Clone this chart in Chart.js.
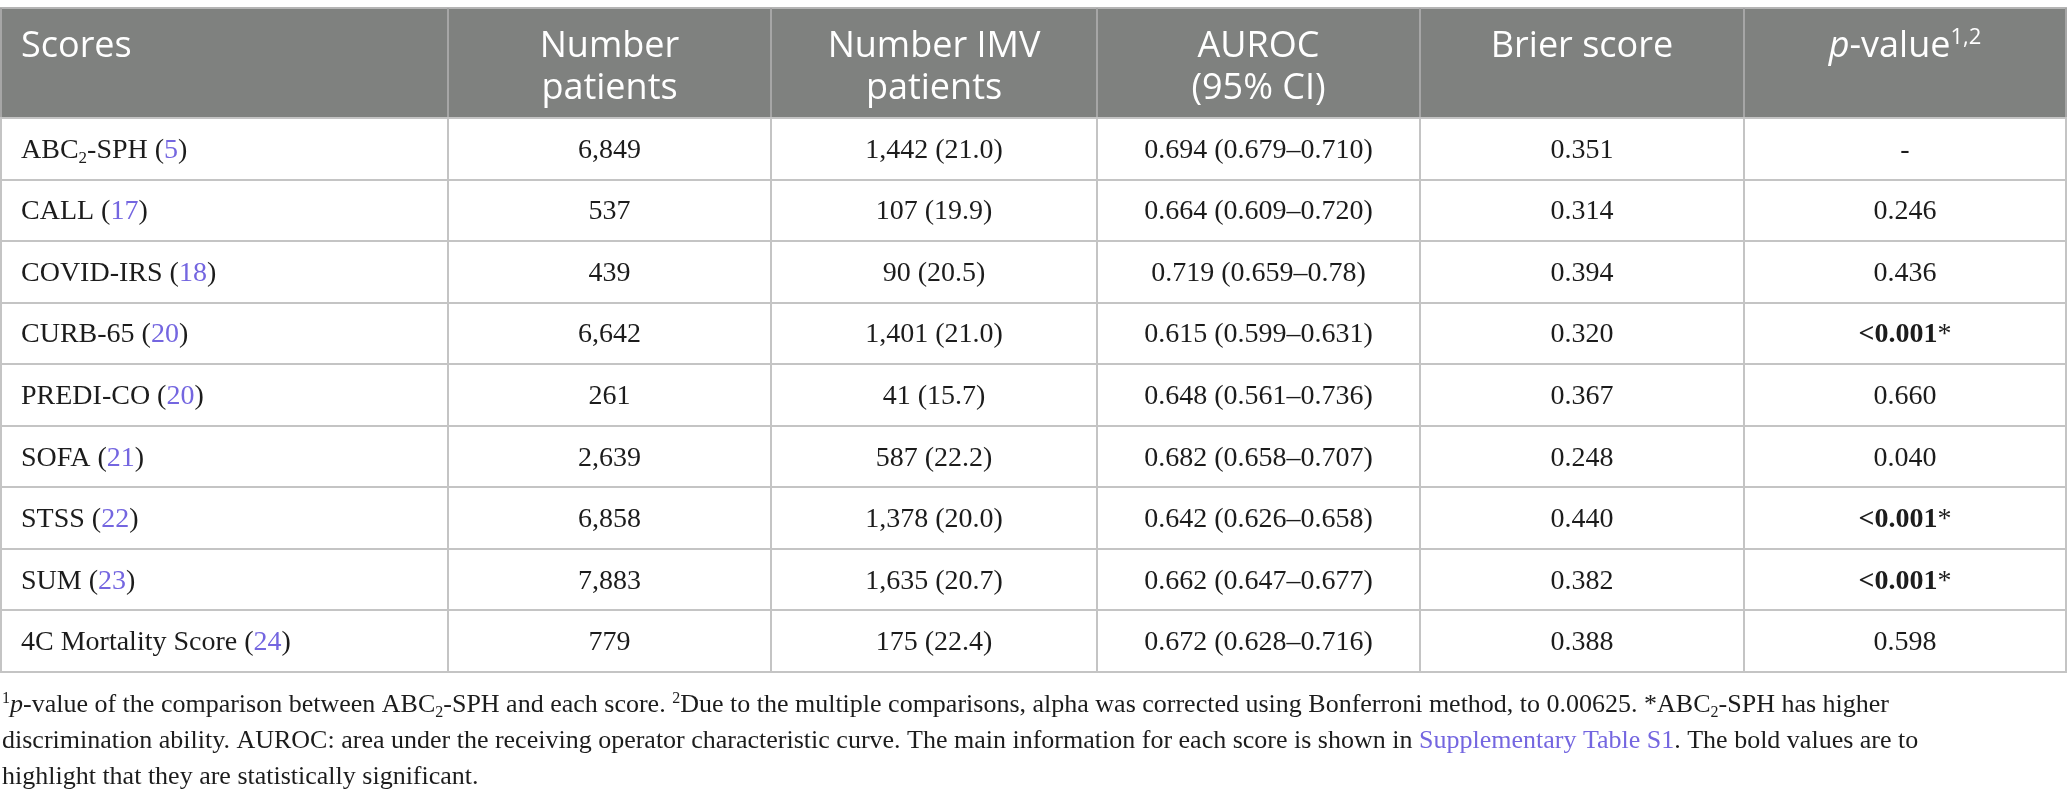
<!DOCTYPE html>
<html>
<head>
<meta charset="utf-8">
<script src="https://cdn.jsdelivr.net/npm/chart.js@4.4.1/dist/chart.umd.min.js"></script>
<style>
  html, body { margin: 0; padding: 0; background: #fff; }
  #wrap { width: 2067px; height: 804px; position: relative; }
</style>
</head>
<body>
<div id="wrap"><canvas id="tablo"></canvas></div>
<script>
// table data
const scores = ['ABC₂-SPH', 'CALL', 'COVID-IRS', 'CURB-65', 'PREDI-CO', 'SOFA', 'STSS', 'SUM', '4C Mortality Score'];
const refs = ['5', '17', '18', '20', '20', '21', '22', '23', '24'];
const nPatients = ['6,849', '537', '439', '6,642', '261', '2,639', '6,858', '7,883', '779'];
const nImv = ['1,442', '107', '90', '1,401', '41', '587', '1,378', '1,635', '175'];
const imvPct = ['21.0', '19.9', '20.5', '21.0', '15.7', '22.2', '20.0', '20.7', '22.4'];
const auroc = ['0.694', '0.664', '0.719', '0.615', '0.648', '0.682', '0.642', '0.662', '0.672'];
const ciLow = ['0.679', '0.609', '0.659', '0.599', '0.561', '0.658', '0.626', '0.647', '0.628'];
const ciHigh = ['0.710', '0.720', '0.78', '0.631', '0.736', '0.707', '0.658', '0.677', '0.716'];
const brier = ['0.351', '0.314', '0.394', '0.320', '0.367', '0.248', '0.440', '0.382', '0.388'];
const pValues = ['-', '0.246', '0.436', '<0.001', '0.660', '0.040', '<0.001', '<0.001', '0.598'];
const pSignificant = [false, false, false, true, false, false, true, true, false];

// layout (pixels)
const colEdges = [1, 448, 771, 1097, 1420, 1744, 2066];
const headerTop = 8;
const bodyTop = 118;
const bodyBottom = 672;

const SERIF = '"Liberation Serif", "DejaVu Serif", serif';
const SANS = '"Open Sans", "Noto Sans", sans-serif';
const TEXT = '#1c1c1c';
const LINK = '#7466e0';
const HEADER_BG = '#7f817f';
const LINE = '#c4c4c4';

// draw a list of styled text runs
function drawRuns(ctx, runs, x, y, align, size, family) {
    const fontOf = r => {
        const s = (r.sub || r.sup) ? Math.round(size * 0.62) : size;
        return `${r.i ? 'italic ' : ''}${r.b ? 'bold ' : ''}${s}px ${family}`;
    };
    let total = 0;
    runs.forEach(r => { ctx.font = fontOf(r); total += ctx.measureText(r.t).width; });
    let cx = align === 'center' ? x - total / 2 : x;
    ctx.textAlign = 'left';
    ctx.textBaseline = 'alphabetic';
    runs.forEach(r => {
        ctx.font = fontOf(r);
        ctx.fillStyle = r.c || TEXT;
        let dy = 0;
        if (r.sub) dy = size * 0.2;
        if (r.sup) dy = -size * 0.36;
        ctx.fillText(r.t, cx, y + dy);
        cx += ctx.measureText(r.t).width;
    });
}

function nameRuns(name) {
    const parts = name.split('₂');
    const runs = [];
    parts.forEach((p, i) => {
        if (i > 0) runs.push({ t: '2', sub: true });
        runs.push({ t: p });
    });
    return runs;
}

const tablePlugin = {
    id: 'tablePlugin',
    beforeDraw(chart) {
        const ctx = chart.ctx;
        const x = chart.scales.x;
        const left = x.getPixelForValue(colEdges[0]);
        const right = x.getPixelForValue(colEdges[colEdges.length - 1]);
        ctx.save();
        ctx.fillStyle = HEADER_BG;
        ctx.fillRect(left - 1, headerTop, right - left + 2, bodyTop - headerTop);
        ctx.strokeStyle = '#b4b4b4';
        ctx.lineWidth = 2;
        ctx.beginPath();
        ctx.moveTo(0, headerTop);
        ctx.lineTo(chart.width, headerTop);
        ctx.stroke();
        ctx.strokeStyle = '#a6a6a6';
        colEdges.forEach(e => {
            const px = x.getPixelForValue(e);
            ctx.beginPath();
            ctx.moveTo(px, headerTop);
            ctx.lineTo(px, bodyTop);
            ctx.stroke();
        });
        ctx.restore();
    },
    afterDraw(chart) {
        const ctx = chart.ctx;
        const x = chart.scales.x;
        const y = chart.scales.y;
        const colMid = c => (x.getPixelForValue(colEdges[c]) + x.getPixelForValue(colEdges[c + 1])) / 2;
        ctx.save();

        // header
        const h1 = headerTop + 49;
        const h2 = h1 + 42;
        const hs = 36;
        const white = s => [{ t: s, c: '#ffffff' }];
        drawRuns(ctx, white('Scores'), x.getPixelForValue(colEdges[0]) + 20, h1, 'left', hs, SANS);
        drawRuns(ctx, white('Number'), colMid(1), h1, 'center', hs, SANS);
        drawRuns(ctx, white('patients'), colMid(1), h2, 'center', hs, SANS);
        drawRuns(ctx, white('Number IMV'), colMid(2), h1, 'center', hs, SANS);
        drawRuns(ctx, white('patients'), colMid(2), h2, 'center', hs, SANS);
        drawRuns(ctx, white('AUROC'), colMid(3), h1, 'center', hs, SANS);
        drawRuns(ctx, white('(95% CI)'), colMid(3), h2, 'center', hs, SANS);
        drawRuns(ctx, white('Brier score'), colMid(4), h1, 'center', hs, SANS);
        drawRuns(ctx, [
            { t: 'p', i: true, c: '#fff' },
            { t: '-value', c: '#fff' },
            { t: '1,2', sup: true, c: '#fff' }
        ], colMid(5), h1, 'center', hs, SANS);

        // body
        const bs = 28;
        scores.forEach((name, i) => {
            const cy = y.getPixelForValue(i) + 9;
            drawRuns(ctx, nameRuns(name).concat([
                { t: ' (' }, { t: refs[i], c: LINK }, { t: ')' }
            ]), x.getPixelForValue(colEdges[0]) + 20, cy, 'left', bs, SERIF);
            drawRuns(ctx, [{ t: nPatients[i] }], colMid(1), cy, 'center', bs, SERIF);
            drawRuns(ctx, [{ t: `${nImv[i]} (${imvPct[i]})` }], colMid(2), cy, 'center', bs, SERIF);
            drawRuns(ctx, [{ t: `${auroc[i]} (${ciLow[i]}–${ciHigh[i]})` }], colMid(3), cy, 'center', bs, SERIF);
            drawRuns(ctx, [{ t: brier[i] }], colMid(4), cy, 'center', bs, SERIF);
            const pr = pSignificant[i] ? [{ t: pValues[i], b: true }, { t: '*' }] : [{ t: pValues[i] }];
            drawRuns(ctx, pr, colMid(5), cy, 'center', bs, SERIF);
        });

        // footnote
        const fs = 26;
        const fx = 2;
        drawRuns(ctx, [
            { t: '1', sup: true }, { t: 'p', i: true },
            { t: '-value of the comparison between ABC' }, { t: '2', sub: true },
            { t: '-SPH and each score. ' }, { t: '2', sup: true },
            { t: 'Due to the multiple comparisons, alpha was corrected using Bonferroni method, to 0.00625. *ABC' },
            { t: '2', sub: true }, { t: '-SPH has higher' }
        ], fx, 712, 'left', fs, SERIF);
        drawRuns(ctx, [
            { t: 'discrimination ability. AUROC: area under the receiving operator characteristic curve. The main information for each score is shown in ' },
            { t: 'Supplementary Table S1', c: LINK },
            { t: '. The bold values are to' }
        ], fx, 748, 'left', fs, SERIF);
        drawRuns(ctx, [{ t: 'highlight that they are statistically significant.' }], fx, 784, 'left', fs, SERIF);

        ctx.restore();
    }
};

new Chart(document.getElementById('tablo'), {
    type: 'bar',
    data: { labels: scores, datasets: [] },
    options: {
        indexAxis: 'y',
        responsive: true,
        maintainAspectRatio: false,
        animation: false,
        devicePixelRatio: 1,
        layout: { padding: { top: bodyTop, bottom: 804 - bodyBottom, left: 0, right: 0 } },
        plugins: { legend: { display: false }, tooltip: { enabled: false } },
        scales: {
            x: {
                type: 'linear',
                min: 0,
                max: 2067,
                afterBuildTicks: scale => { scale.ticks = colEdges.map(v => ({ value: v })); },
                ticks: { display: false },
                border: { display: false },
                grid: { color: LINE, lineWidth: 2, drawTicks: false }
            },
            y: {
                type: 'category',
                offset: true,
                ticks: { display: false },
                border: { display: false },
                grid: { offset: true, color: LINE, lineWidth: 2, drawTicks: false }
            }
        }
    },
    plugins: [tablePlugin]
});
</script>
</body>
</html>
